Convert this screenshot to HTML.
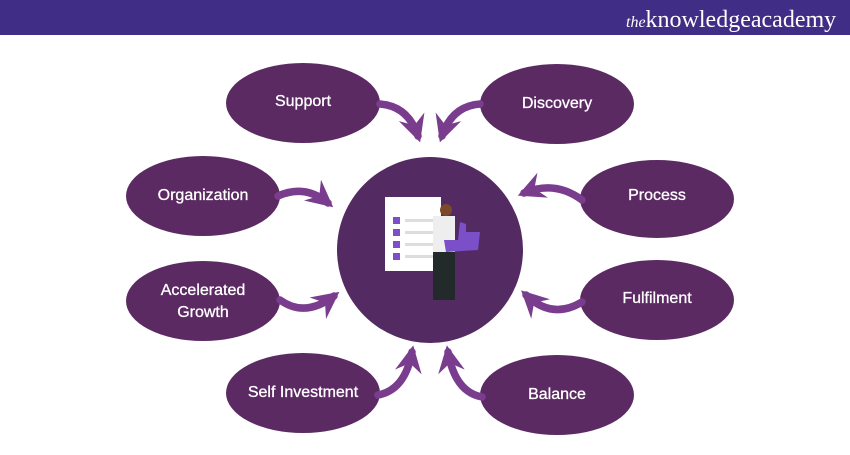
<!DOCTYPE html>
<html><head><meta charset="utf-8"><style>
html,body{margin:0;padding:0;background:#fff;}
body{width:850px;height:450px;overflow:hidden;}
</style></head><body>
<svg width="850" height="450" viewBox="0 0 850 450" xmlns="http://www.w3.org/2000/svg">
<defs>
<marker id="ah" viewBox="0 0 12 12" refX="9" refY="6" markerUnits="userSpaceOnUse" markerWidth="27" markerHeight="27" orient="auto">
<path d="M0,0 L12,6 L0,12 L4,6 z" fill="#7a3d8e"/>
</marker>
</defs>
<rect x="0" y="0" width="850" height="35" fill="#3f2d86"/>
<text x="626" y="27" font-family="Liberation Serif, serif" font-size="24" fill="#fff"><tspan font-style="italic" font-size="16">the</tspan>knowledge<tspan>academy</tspan></text>

<g fill="#5c2a63">
<ellipse cx="303" cy="103" rx="77" ry="40"/>
<ellipse cx="557" cy="104" rx="77" ry="40"/>
<ellipse cx="203" cy="196" rx="77" ry="40"/>
<ellipse cx="657" cy="199" rx="77" ry="39"/>
<ellipse cx="203" cy="301" rx="77" ry="40"/>
<ellipse cx="657" cy="300" rx="77" ry="40"/>
<ellipse cx="303" cy="393" rx="77" ry="40"/>
<ellipse cx="557" cy="395" rx="77" ry="40"/>
</g>
<circle cx="430" cy="250" r="93" fill="#532a62"/>

<g fill="#fff" font-family="Liberation Sans, sans-serif" font-size="16" text-anchor="middle" stroke="#fff" stroke-width="0.3">
<text x="303" y="106">Support</text>
<text x="557" y="108">Discovery</text>
<text x="203" y="200">Organization</text>
<text x="657" y="200">Process</text>
<text x="203" y="295">Accelerated</text>
<text x="203" y="317">Growth</text>
<text x="657" y="303">Fulfilment</text>
<text x="303" y="397">Self Investment</text>
<text x="557" y="399">Balance</text>
</g>

<g fill="none" stroke="#7a3d8e" stroke-width="7.5" stroke-linecap="round" marker-end="url(#ah)">
<path d="M380,104 Q408,106 418,136"/>
<path d="M480,104 Q452,106 442,136"/>
<path d="M278,196 Q305,184 328,203"/>
<path d="M582,200 Q555,180 524,193"/>
<path d="M280,300 Q305,318 334,296"/>
<path d="M582,302 Q552,320 526,295"/>
<path d="M378,395 Q405,390 412,352"/>
<path d="M482,397 Q455,392 448,352"/>
</g>

<!-- illustration -->
<rect x="385" y="197" width="56" height="74" fill="#fff"/>
<g fill="#7b4fc8">
<rect x="393" y="217" width="7" height="7"/><rect x="393" y="229" width="7" height="7"/>
<rect x="393" y="241" width="7" height="7"/><rect x="393" y="253" width="7" height="7"/>
</g>
<g fill="#ddd">
<rect x="405" y="219" width="28" height="3"/><rect x="405" y="231" width="28" height="3"/>
<rect x="405" y="243" width="28" height="3"/><rect x="405" y="255" width="28" height="3"/>
</g>
<rect x="433" y="250" width="22" height="50" fill="#222a2a"/>
<rect x="433" y="216" width="22" height="36" fill="#eee"/>
<circle cx="446" cy="210" r="6" fill="#7a4a2a"/>
<path d="M444,240 L458,240 L460,222 L466,224 L466,232 L480,232 L478,250 L446,252 z" fill="#7b4fc8"/>
</svg>
</body></html>
